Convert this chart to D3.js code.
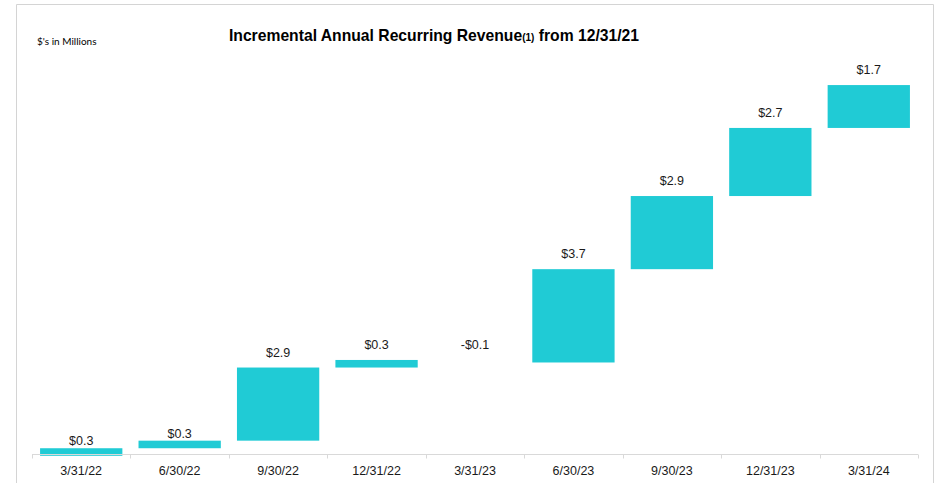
<!DOCTYPE html>
<html>
<head>
<meta charset="utf-8">
<script src="https://cdn.jsdelivr.net/npm/d3@7/dist/d3.min.js"></script>
<style>
  html, body { margin: 0; padding: 0; background: #fff; }
  svg { display: block; }
</style>
</head>
<body>
<script>
// ---- data ----
const categories = ["3/31/22", "6/30/22", "9/30/22", "12/31/22", "3/31/23", "6/30/23", "9/30/23", "12/31/23", "3/31/24"];
const increments = [0.3, 0.3, 2.9, 0.3, -0.1, 3.7, 2.9, 2.7, 1.7];
const valueLabels = ["$0.3", "$0.3", "$2.9", "$0.3", "-$0.1", "$3.7", "$2.9", "$2.7", "$1.7"];
const titleMain = "Incremental Annual Recurring Revenue";
const titleNote = "(1)";
const titleTail = " from 12/31/21";
const unitNote = "$'s in Millions";

// ---- layout ----
const W = 936, H = 483;
const svg = d3.select("body").append("svg").attr("width", W).attr("height", H);

// frame
svg.append("path")
  .attr("d", `M16.5,${H} V4.5 H933.5 V${H}`)
  .attr("fill", "none").attr("stroke", "#d4d4d4").attr("stroke-width", 1);

// running totals
let run = 0;
const bars = increments.map((v, i) => {
  const start = run; run += v;
  return { cat: categories[i], v, start, end: run, label: valueLabels[i] };
});

const x = d3.scaleBand().domain(categories).range([32, 918]).paddingInner(0.164).paddingOuter(0.082);
const y = d3.scaleLinear().domain([0, 16]).range([455.8, 455.8 - 16 * 25.22]);

// bars (negative change drawn invisible as in the reference)
svg.append("g").selectAll("rect").data(bars).join("rect")
  .attr("x", d => x(d.cat))
  .attr("width", x.bandwidth())
  .attr("y", d => y(Math.max(d.start, d.end)))
  .attr("height", d => Math.abs(y(d.start) - y(d.end)))
  .attr("fill", d => d.v >= 0 ? "#20cbd5" : "none");

// axis line and between-category ticks
const axisY = 454.5;
const step = x.step();
const x0 = x.range()[0];
const ax = svg.append("g");
ax.append("line").attr("x1", x0).attr("x2", x.range()[1]).attr("y1", axisY).attr("y2", axisY)
  .attr("stroke", "#d9d9d9").attr("stroke-width", 1);
ax.selectAll("line.tk").data(d3.range(categories.length + 1)).join("line")
  .attr("class", "tk")
  .attr("x1", i => Math.round(x0 + i * step) + 0.5).attr("x2", i => Math.round(x0 + i * step) + 0.5)
  .attr("y1", axisY).attr("y2", axisY + 4)
  .attr("stroke", "#d9d9d9").attr("stroke-width", 1);

// category labels
svg.append("g").selectAll("text").data(categories).join("text")
  .attr("x", d => x(d) + x.bandwidth() / 2)
  .attr("y", 474.5)
  .attr("text-anchor", "middle")
  .attr("font-family", "Liberation Sans, Arial, sans-serif")
  .attr("font-size", 12.5)
  .attr("fill", "#1a1a1a")
  .text(d => d);

// value labels
svg.append("g").selectAll("text").data(bars).join("text")
  .attr("x", d => x(d.cat) + x.bandwidth() / 2)
  .attr("y", d => {
    const top = y(Math.max(d.start, d.end));
    const gap = (y(0) - top) < 20 ? 3 : 11;
    return top - gap;
  })
  .attr("text-anchor", "middle")
  .attr("font-family", "Liberation Sans, Arial, sans-serif")
  .attr("font-size", 12.5)
  .attr("fill", "#1a1a1a")
  .text(d => d.label);

// title
const t = svg.append("text")
  .attr("x", 434).attr("y", 41)
  .attr("text-anchor", "middle")
  .attr("font-family", "Liberation Sans, Arial, sans-serif")
  .attr("font-weight", "bold")
  .attr("font-size", 15.7)
  .attr("fill", "#000");
t.append("tspan").text(titleMain);
t.append("tspan").attr("font-size", 10).text(titleNote);
t.append("tspan").text(titleTail);

// unit note
svg.append("text")
  .attr("x", 37).attr("y", 44.5)
  .attr("font-family", "Lato, sans-serif")
  .attr("font-size", 10)
  .attr("fill", "#000")
  .text(unitNote);
</script>
</body>
</html>
